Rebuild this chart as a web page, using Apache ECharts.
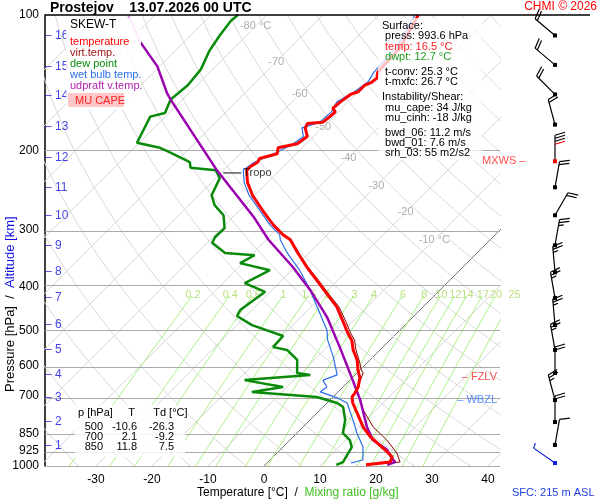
<!DOCTYPE html>
<html><head><meta charset="utf-8">
<script src="https://cdn.jsdelivr.net/npm/echarts@6/dist/echarts.min.js"></script>
<style>html,body{margin:0;padding:0;background:#fff}#c{width:600px;height:500px}</style>
</head><body><div id="c"></div>
<script>
// ---- data ----
const tempP = [994,980,955,931,889,862,819,771,725,703,689,668,638,612,582,553,526,507,479,444,418,387,362,337,315,307,292,273,251,235,221,217,212,208,203,197,193,186,178,174,173,169,164,161,156,150,148,143,141,138,134,127,118,108,100];
const tempT = [18.0,21.8,21.3,19.5,16.1,13.8,10.7,7.7,4.6,3.4,3.2,2.7,1.4,-0.4,-2.3,-4.8,-6.8,-8.8,-11.6,-15.4,-19.1,-23.8,-27.9,-32.0,-35.7,-37.9,-41.4,-45.5,-50.4,-53.6,-55.9,-55.9,-55.4,-55.7,-53.4,-54.3,-51.6,-51.1,-53.0,-53.4,-50.9,-50.7,-50.5,-51.6,-51.4,-50.9,-50.0,-50.0,-49.3,-49.1,-50.0,-50.2,-50.4,-51.8,-53.0];
const virtP = [994,980,936,876,819,751,679,622,612,588,553,526,507,479,444,418,387,362,337,315];
const virtT = [18.5,23.6,21.4,17.3,12.5,7.7,3.0,1.1,0.2,-1.5,-4.3,-6.3,-8.3,-11.1,-15.0,-18.8,-23.5,-27.7,-31.8,-35.6];
const dewP = [994,980,908,876,845,791,740,725,703,685,668,645,628,622,582,553,545,515,487,465,451,411,393,368,355,341,337,320,311,297,278,264,251,230,221,218,212,201,197,192,168,165,154,143,132,120,111,103,100];
const dewT = [12.7,13.4,12.3,10.7,8.2,6.3,3.6,1.8,-2.9,-15.4,-10.7,-18.8,-8.0,-10.7,-13.0,-16.6,-19.6,-19.8,-27.3,-31.6,-32.1,-30.9,-36.1,-33.9,-40.5,-39.3,-45.0,-49.1,-49.6,-49.5,-52.0,-55.4,-57.7,-59.3,-61.4,-66.4,-67.5,-73.2,-75.4,-80.4,-82.7,-80.7,-82.1,-81.6,-82.1,-83.9,-84.8,-85.4,-85.2];
const wetP = [985,970,908,845,791,725,706,685,668,645,628,573,526,500,444,407,368,337,315,307,292,273,251,235,221,212,203,193,186,178,173,164,156,148,141,134,127,118,108,100];
const wetT = [15.0,16.6,14.3,10.7,7.7,3.6,0.9,-3.2,-2.9,-4.8,-3.2,-7.1,-11.1,-13.0,-18.9,-23.2,-28.6,-33.9,-37.5,-38.5,-42.0,-46.0,-51.0,-54.2,-56.5,-56.0,-54.0,-52.3,-51.8,-53.6,-51.5,-51.2,-52.0,-50.7,-50.0,-50.7,-50.9,-51.1,-52.4,-53.6];
const parcP = [994,980,960,921,876,819,714,645,545,467,407,362,315,280,221,154,149,130,115];
const parcT = [21.8,22.7,21.4,19.1,14.8,11.4,5.4,0.5,-7.7,-15.4,-23.2,-30.4,-39.6,-46.4,-61.2,-82.1,-83.9,-90.4,-97.7];
const parcTopP = [115,100];
const parcTopT = [-97.7,-104.8];
const pLevels = [100,200,300,400,500,600,700,850,925,1000];
const tempTicks = [-30,-20,-10,0,10,20,30,40];
const isoLabelT = [-80,-70,-60,-50,-40,-30,-20,-10];
const isoLabelP = [106,127,150,177,207,239,274,315];
const isoLabelTxt = ['-80 °C','-70','-60','-50','-40','-30','-20','-10 °C'];
const mixW = [0.2,0.4,0.6,1,1.5,2,3,4,6,8,10,12,14,17,20,25];
const kmVal = [16,15,14,13,12,11,10,9,8,7,6,5,4,3,2,1];
const kmP = [111,130,151,177,207,241,279,324,371,424,487,553,628,706,799,901];
const windP = [111,129,150,175,211,241,278,324,372,424,487,553,622,714,799,898,985];
const windDir = [310,310,315,345,0,10,30,10,355,350,355,350,0,345,0,10,305];
const windKt = [20,20,20,20,40,20,20,25,25,25,25,25,20,25,20,10,5];
const levelMarks = [{t:'MXWS',p:211,c:'#ff2020'},{t:'FZLV',p:635,c:'#ff2020'},{t:'WBZL',p:714,c:'#3070ff'}];
const tableRows = [['500','-10.6','-26.3'],['700','2.1','-9.2'],['850','11.8','7.5']];

// ---- skew transform ----
const SK = 80.54;
const X = (t,p)=> t + SK*(3-Math.log10(p));
const Y = p => Math.log10(p);
const prof = (P,T)=>P.map((p,i)=>[X(T[i],p),Y(p)]);
const FONT = 'Liberation Sans, Arial, sans-serif';

const bg = [];
for (let t=-160;t<=40;t+=10){
  bg.push({type:'line',data:[[X(t,1050),Y(1050)],[X(t,90),Y(90)]],symbol:'none',silent:true,
    lineStyle:{color:t===0?'#777':'#d8d8d8',width:1},z:1});
}
for (let th=230;th<=500;th+=10){
  const d=[];
  for(let p=1050;p>=90;p-=20){const t=th*Math.pow(p/1000,0.286)-273.15;d.push([X(t,p),Y(p)]);}
  bg.push({type:'line',data:d,symbol:'none',silent:true,lineStyle:{color:'#d8d8d8',width:1},z:1});
}
function tdFromW(w,p){const e=w*p/(622+w);const l=Math.log(e/6.112);return 243.5*l/(17.67-l);}
const mixLab=[];
mixW.forEach(w=>{
  const d=[];
  for(let p=1050;p>=420;p-=10){d.push([X(tdFromW(w,p),p),Y(p)]);}
  bg.push({type:'line',data:d,symbol:'none',silent:true,lineStyle:{color:'#aaf080',width:1},z:1});
  mixLab.push({value:[X(tdFromW(w,417),417),Y(417)],name:String(w)});
});

const hLines = {type:'line',data:[],markLine:{silent:true,symbol:'none',label:{show:false},
  lineStyle:{color:'#aaa',type:'solid',width:1.2},data:pLevels.filter(p=>p!==100).map(p=>({yAxis:Y(p)}))},z:2};

function lineS(P,T,color,w,z){return {type:'line',data:prof(P,T),symbol:'none',lineStyle:{color:color,width:w},z:z};}

const chart = echarts.init(document.getElementById('c'));
chart.setOption({
  animation:false,
  textStyle:{fontFamily:FONT},
  grid:[{left:45,top:15,width:455,height:451},{left:520,top:15,width:70,height:451}],
  xAxis:[{type:'value',min:-39.1,max:42.14,gridIndex:0,
     axisLine:{show:false,onZero:false},splitLine:{show:false},
     axisTick:{show:false},
     axisLabel:{customValues:tempTicks,color:'#000',fontSize:12,margin:8,fontFamily:FONT}},
     {type:'value',min:0,max:1,gridIndex:1,show:false}],
  yAxis:[{type:'value',min:2,max:3,inverse:true,gridIndex:0,
     axisLine:{show:true,onZero:false,lineStyle:{color:'#000',width:1.5}},splitLine:{show:false},
     axisTick:{show:false},
     axisLabel:{customValues:pLevels.map(Y),formatter:v=>String(Math.round(Math.pow(10,v))),color:'#000',fontSize:12,margin:6,fontFamily:FONT}},
     {type:'value',min:2,max:3,inverse:true,gridIndex:1,show:false}],
  series:[...bg, hLines,
    {type:'scatter',data:mixLab,symbolSize:0,silent:true,clip:false,z:3,
      label:{show:true,formatter:'{b}',color:'#a8d860',fontSize:11,position:'inside',fontFamily:FONT}},
    {type:'scatter',data:isoLabelT.map((t,i)=>({value:[X(t,isoLabelP[i]),Y(isoLabelP[i])],name:isoLabelTxt[i]})),symbolSize:0,silent:true,z:3,
      label:{show:true,formatter:'{b}',color:'#999',fontSize:11,position:'inside',backgroundColor:'rgba(255,255,255,0.6)',fontFamily:FONT}},
    lineS(virtP,virtT,'#8b0000',1,5),
    lineS(wetP,wetT,'#2a6fe8',1.2,6),
    lineS(dewP,dewT,'#0a8a0a',2.5,7),
    lineS(parcTopP,parcTopT,'#e0a8e0',2.5,7),
    lineS(parcP,parcT,'#9a00b0',2.5,8),
    lineS(tempP,tempT,'#ff0000',3,9),
    {type:'scatter',data:kmVal.map((k,i)=>({value:[-39.1,Y(kmP[i])],name:String(k)})),symbolSize:0,silent:true,clip:false,z:10,
      label:{show:true,formatter:'– {b}',color:'#1010e0',fontSize:12,position:'right',distance:0,fontFamily:FONT}},
    {type:'scatter',data:levelMarks.map(m=>({value:[42.14,Y(m.p)],name:m.t,label:m.t==='MXWS'?{color:m.c,position:'right',distance:-18}:{color:m.c,position:'left',distance:3}})),symbolSize:0,silent:true,clip:false,z:10,
      label:{show:true,formatter:p=>p.name==='MXWS'?'MXWS –':'– '+p.name,fontSize:11,fontFamily:FONT}},
    {type:'custom',xAxisIndex:1,yAxisIndex:1,clip:false,z:10,
      data:windP.map((p,i)=>[0.5,Y(p),windDir[i],windKt[i],i]),
      renderItem:function(params,api){
        const pt=api.coord([api.value(0),api.value(1)]);
        const d=api.value(2)*Math.PI/180, s=api.value(3), idx=api.value(4);
        const ux=Math.sin(d), uy=-Math.cos(d), L=26;
        const vx=-uy, vy=ux;
        const red = idx===4, blue = idx===windP.length-1;
        const col = blue?'#1020e0':'#000';
        const kids=[{type:'line',shape:{x1:pt[0],y1:pt[1],x2:pt[0]+ux*L,y2:pt[1]+uy*L},style:{stroke:col,lineWidth:1.2}},
          {type:'rect',shape:{x:pt[0]-2,y:pt[1]-2,width:4,height:4},style:{fill:red?'#ff0000':col}}];
        let rem=s, pos=L, n=0;
        while(rem>=10){const bx=pt[0]+ux*pos, by=pt[1]+uy*pos;
          kids.push({type:'line',shape:{x1:bx,y1:by,x2:bx+vx*10+ux*3,y2:by+vy*10+uy*3},style:{stroke:(red&&n>=3)?'#ff0000':col,lineWidth:1.2}});
          rem-=10;pos-=3;n++;}
        if(rem>=5){const bx=pt[0]+ux*pos, by=pt[1]+uy*pos;
          kids.push({type:'line',shape:{x1:bx,y1:by,x2:bx+vx*5+ux*1.5,y2:by+vy*5+uy*1.5},style:{stroke:col,lineWidth:1.2}});}
        return {type:'group',children:kids};
      }},
    {type:'scatter',data:[{value:[X(-58,224),Y(224)],name:'Tropo'}],symbol:'rect',symbolSize:[18,1.2],itemStyle:{color:'#000'},z:10,silent:true,
      label:{show:true,formatter:'{b}',position:'right',distance:2,color:'#000',fontSize:11,fontFamily:FONT}}
  ],
  graphic:[
    {type:'line',shape:{x1:45,y1:15,x2:590,y2:15},style:{stroke:'#000',lineWidth:1.5},z:100},
    {type:'text',left:50,top:1,style:{text:'Prostejov    13.07.2026 00 UTC',font:'bold 14px '+FONT,fill:'#000'},z:100},
    {type:'text',right:3,top:1,style:{text:'CHMI © 2026',font:'12px '+FONT,fill:'#ff0000'},z:100},
    {type:'rect',shape:{x:66,y:18,width:75,height:92},style:{fill:'rgba(255,255,255,0.8)'},z:90},
    {type:'text',x:70,y:19,style:{text:'SKEW-T',font:'12px '+FONT,fill:'#000'},z:100},
    {type:'text',x:70,y:36,style:{rich:{r:{fill:'#ff0000',lineHeight:11},v:{fill:'#9a1010',lineHeight:11},g:{fill:'#0a8a0a',lineHeight:11},b:{fill:'#2a6fe8',lineHeight:11},p:{fill:'#b020b0',lineHeight:11}},
      text:'{r|temperature}\n{v|virt.temp.}\n{g|dew point}\n{b|wet bulb temp.}\n{p|udpraft v.temp.}',font:'11px '+FONT},z:100},
    {type:'rect',shape:{x:68,y:93,width:56,height:14},style:{fill:'#ffc8c8'},z:95},
    {type:'text',x:75,y:95,style:{text:'MU CAPE',font:'11px '+FONT,fill:'#ff2020'},z:100},
    {type:'rect',shape:{x:378,y:18,width:104,height:142},style:{fill:'rgba(255,255,255,0.75)'},z:90},
    {type:'text',x:382,y:21,style:{font:'11px '+FONT,
      rich:{k:{fill:'#000',lineHeight:10.2},r:{fill:'#ff2020',lineHeight:10.2},g:{fill:'#20a020',lineHeight:10.2},s:{lineHeight:5}},
      text:'{k|Surface:}\n{k| press: 993.6 hPa}\n{r| temp: 16.5 °C}\n{g| dwpt: 12.7 °C}\n{s| }\n{k| t-conv: 25.3 °C}\n{k| t-mxfc: 26.7 °C}\n{s| }\n{k|Instability/Shear:}\n{k| mu_cape: 34 J/kg}\n{k| mu_cinh: -18 J/kg}\n{s| }\n{k| bwd_06: 11.2 m/s}\n{k| bwd_01: 7.6 m/s}\n{k| srh_03: 55 m2/s2}'},z:100},
    {type:'rect',shape:{x:75,y:405,width:110,height:52},style:{fill:'rgba(255,255,255,0.85)'},z:90},
    {type:'text',x:78,y:407,style:{text:'p [hPa]     T      Td [°C]',font:'11px '+FONT,fill:'#000'},z:100},
    ...tableRows.flatMap((r,i)=>[
      {type:'text',x:103,y:421+i*10,style:{text:r[0],font:'11px '+FONT,fill:'#000',align:'right'},z:100},
      {type:'text',x:137,y:421+i*10,style:{text:r[1],font:'11px '+FONT,fill:'#000',align:'right'},z:100},
      {type:'text',x:174,y:421+i*10,style:{text:r[2],font:'11px '+FONT,fill:'#000',align:'right'},z:100}]),
    {type:'text',x:197,y:487,style:{font:'12px '+FONT,rich:{k:{fill:'#000'},g:{fill:'#40c020'}},text:'{k|Temperature [°C]  /  }{g|Mixing ratio [g/kg]}'},z:100},
    {type:'text',x:512,y:487,style:{text:'SFC: 215 m ASL',font:'11px '+FONT,fill:'#2040e0'},z:100},
    {type:'text',x:4,y:392,rotation:Math.PI/2,style:{font:'13px '+FONT,rich:{k:{fill:'#000'},b:{fill:'#1010e0'}},text:'{k|Pressure [hPa]  /  }{b|Altitude [km]}'},z:100}
  ]
});
</script></body></html>
